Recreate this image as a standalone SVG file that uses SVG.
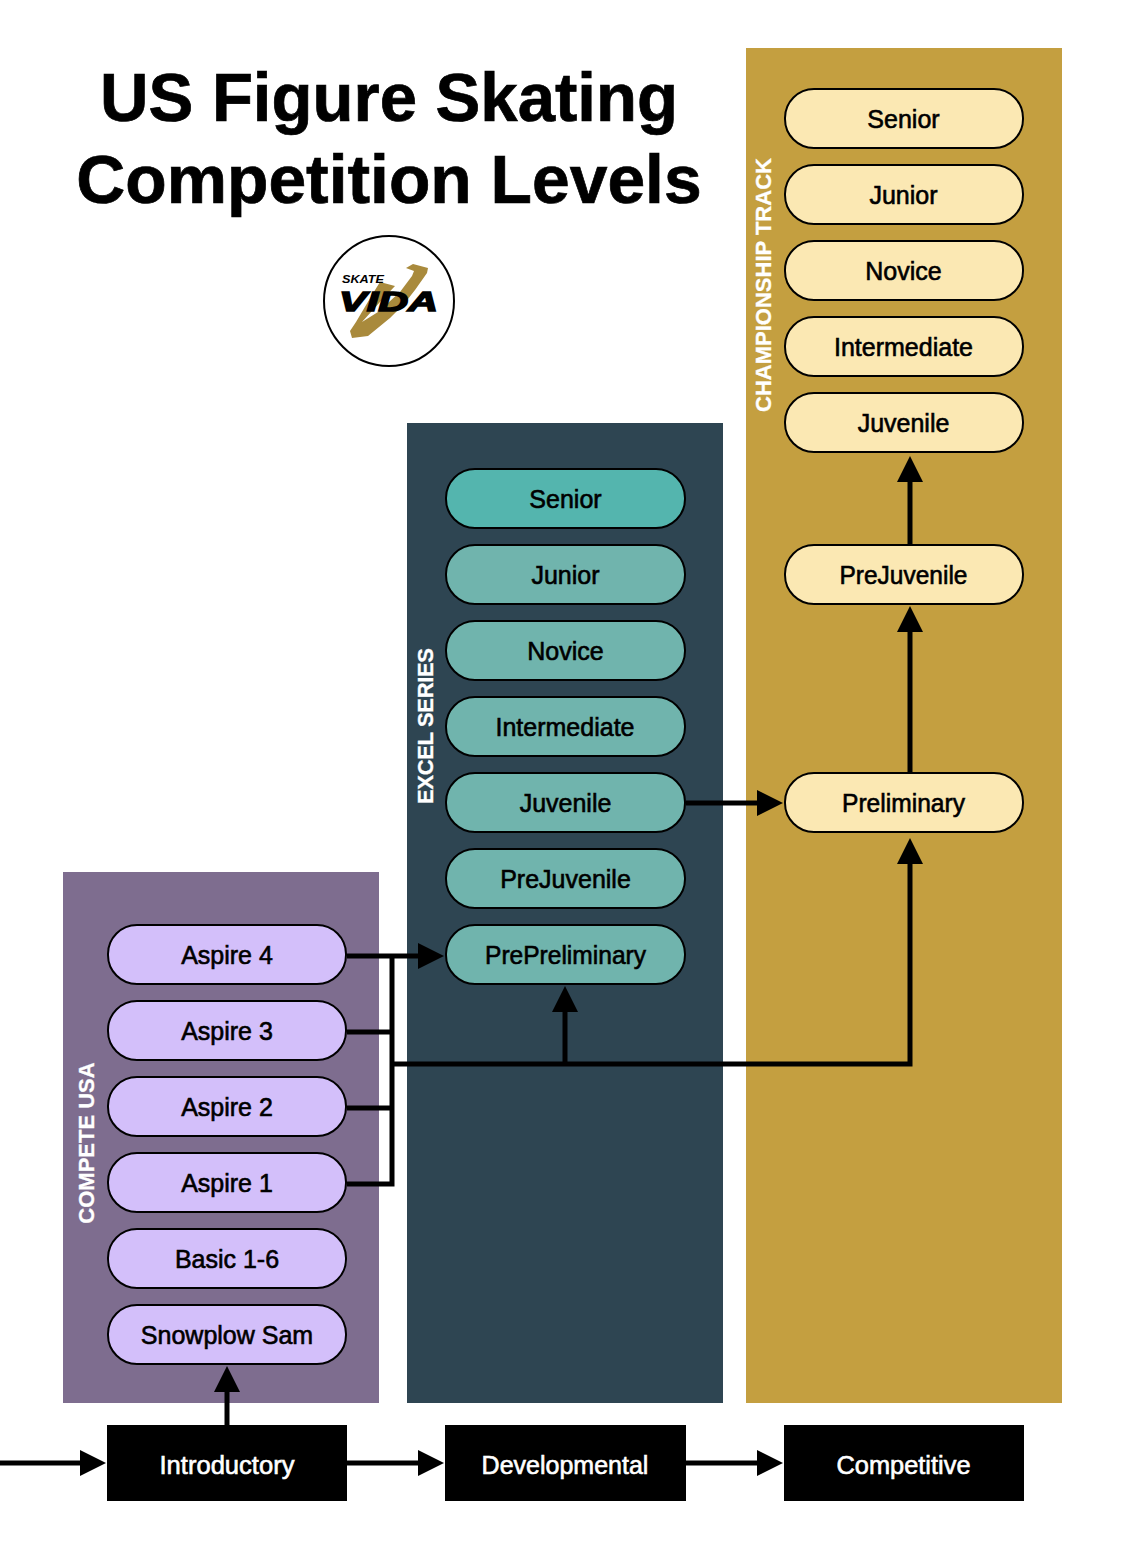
<svg xmlns="http://www.w3.org/2000/svg" width="1130" height="1552" viewBox="0 0 1130 1552">
<defs>
<style>
text{font-family:"Liberation Sans",Arial,sans-serif}
.t{font-size:67.8px;font-weight:700;text-anchor:middle;fill:#000;stroke:#000;stroke-width:.7px}
.l{font-size:25px;text-anchor:middle;fill:#000;stroke:#000;stroke-width:.6px;transform:translateY(.6px)}
.w{font-size:25px;text-anchor:middle;fill:#fff;stroke:#fff;stroke-width:.6px;transform:translateY(1px)}
.v{font-size:22px;font-weight:700;text-anchor:middle;fill:#fff;stroke:#fff;stroke-width:.3px}
.p{stroke:#000;stroke-width:2px}
.pu{fill:#d3bffa}.te{fill:#70b4ad}.ye{fill:#fbe8b3}
.c{fill:none;stroke:#000;stroke-width:5px}
</style>
<marker id="a" markerUnits="userSpaceOnUse" markerWidth="27" markerHeight="28" refX="18" refY="13" orient="auto"><path d="M0 0L26 13L0 26Z" fill="#000"/></marker>
</defs>
<rect width="1130" height="1552" fill="#fff"/>
<g id="panels">
<rect x="63" y="872" width="316" height="531" fill="#7e6d8f"/>
<rect x="407" y="423" width="316" height="980" fill="#2e4552"/>
<rect x="746" y="48" width="316" height="1355" fill="#c49f40"/>
<text class="v" transform="translate(94 1143) rotate(-90)">COMPETE USA</text>
<text class="v" transform="translate(433 726) rotate(-90)" textLength="156">EXCEL SERIES</text>
<text class="v" transform="translate(771 285) rotate(-90)">CHAMPIONSHIP TRACK</text>
</g>
<g id="title">
<text class="t" x="389" y="121" textLength="578" lengthAdjust="spacingAndGlyphs">US Figure Skating</text>
<text class="t" x="389" y="203">Competition Levels</text>
</g>
<g id="logo">
<circle cx="389" cy="301" r="65" fill="#fff" stroke="#000" stroke-width="2"/>
<path d="M406 268L413 264L428 268L427 273L415 290L404 304L390 318L368 336L352 338L350 331L356 322L372 295L380 282L395 286L380 302L362 322L378 312L400 292L412 276L414 271Z" fill="#a98a3c"/>
<text x="342" y="283" font-size="10" font-weight="700" font-style="italic" fill="#000" textLength="42" lengthAdjust="spacingAndGlyphs">SKATE</text>
<text x="339" y="310.500" font-size="28" font-weight="700" font-style="italic" fill="#000" stroke="#000" stroke-width="1.500" textLength="99" lengthAdjust="spacingAndGlyphs">VIDA</text>
</g>
<g id="connectors">
<path class="c" d="M347 956H436" marker-end="url(#a)"/>
<path class="c" d="M347 1032H392"/>
<path class="c" d="M347 1108H392"/>
<path class="c" d="M347 1184H392V956"/>
<path class="c" d="M392 1064H910V846" marker-end="url(#a)"/>
<path class="c" d="M565 1064V994" marker-end="url(#a)"/>
<path class="c" d="M686 803H775" marker-end="url(#a)"/>
<path class="c" d="M910 773V614" marker-end="url(#a)"/>
<path class="c" d="M910 544V464" marker-end="url(#a)"/>
<path class="c" d="M227 1426V1374" marker-end="url(#a)"/>
<path class="c" d="M0 1463H98" marker-end="url(#a)"/>
<path class="c" d="M347 1463H436" marker-end="url(#a)"/>
<path class="c" d="M686 1463H775" marker-end="url(#a)"/>
</g>
<g id="n-aspire4"><rect class="p pu" x="108" y="925" width="238" height="59" rx="29"/><text class="l" x="227" y="963">Aspire 4</text></g>
<g id="n-aspire3"><rect class="p pu" x="108" y="1001" width="238" height="59" rx="29"/><text class="l" x="227" y="1039">Aspire 3</text></g>
<g id="n-aspire2"><rect class="p pu" x="108" y="1077" width="238" height="59" rx="29"/><text class="l" x="227" y="1115">Aspire 2</text></g>
<g id="n-aspire1"><rect class="p pu" x="108" y="1153" width="238" height="59" rx="29"/><text class="l" x="227" y="1191">Aspire 1</text></g>
<g id="n-basic"><rect class="p pu" x="108" y="1229" width="238" height="59" rx="29"/><text class="l" x="227" y="1267">Basic 1-6</text></g>
<g id="n-snowplow"><rect class="p pu" x="108" y="1305" width="238" height="59" rx="29"/><text class="l" x="227" y="1343">Snowplow Sam</text></g>
<g id="e-senior"><rect class="p" fill="#54b5ae" x="446" y="469" width="239" height="59" rx="29"/><text class="l" x="565.5" y="507">Senior</text></g>
<g id="e-junior"><rect class="p te" x="446" y="545" width="239" height="59" rx="29"/><text class="l" x="565.5" y="583">Junior</text></g>
<g id="e-novice"><rect class="p te" x="446" y="621" width="239" height="59" rx="29"/><text class="l" x="565.5" y="659">Novice</text></g>
<g id="e-intermediate"><rect class="p te" x="446" y="697" width="239" height="59" rx="29"/><text class="l" x="565" y="735">Intermediate</text></g>
<g id="e-juvenile"><rect class="p te" x="446" y="773" width="239" height="59" rx="29"/><text class="l" x="565.5" y="811">Juvenile</text></g>
<g id="e-prejuvenile"><rect class="p te" x="446" y="849" width="239" height="59" rx="29"/><text class="l" x="565.5" y="887">PreJuvenile</text></g>
<g id="e-prepreliminary"><rect class="p te" x="446" y="925" width="239" height="59" rx="29"/><text class="l" x="565.5" y="963" textLength="161" lengthAdjust="spacingAndGlyphs">PrePreliminary</text></g>
<g id="c-senior"><rect class="p ye" x="785" y="89" width="238" height="59" rx="29"/><text class="l" x="903.5" y="127">Senior</text></g>
<g id="c-junior"><rect class="p ye" x="785" y="165" width="238" height="59" rx="29"/><text class="l" x="903.5" y="203">Junior</text></g>
<g id="c-novice"><rect class="p ye" x="785" y="241" width="238" height="59" rx="29"/><text class="l" x="903.5" y="279">Novice</text></g>
<g id="c-intermediate"><rect class="p ye" x="785" y="317" width="238" height="59" rx="29"/><text class="l" x="903.5" y="355">Intermediate</text></g>
<g id="c-juvenile"><rect class="p ye" x="785" y="393" width="238" height="59" rx="29"/><text class="l" x="903.5" y="431">Juvenile</text></g>
<g id="c-prejuvenile"><rect class="p ye" x="785" y="545" width="238" height="59" rx="29"/><text class="l" x="903.5" y="583" textLength="128" lengthAdjust="spacingAndGlyphs">PreJuvenile</text></g>
<g id="c-preliminary"><rect class="p ye" x="785" y="773" width="238" height="59" rx="29"/><text class="l" x="903.5" y="811" textLength="123" lengthAdjust="spacingAndGlyphs">Preliminary</text></g>
<g id="s-introductory"><rect x="107" y="1425" width="240" height="76"/><text class="w" x="227" y="1473" textLength="135" lengthAdjust="spacingAndGlyphs">Introductory</text></g>
<g id="s-developmental"><rect x="445" y="1425" width="241" height="76"/><text class="w" x="565" y="1473">Developmental</text></g>
<g id="s-competitive"><rect x="784" y="1425" width="240" height="76"/><text class="w" x="903.5" y="1473" textLength="134" lengthAdjust="spacingAndGlyphs">Competitive</text></g>
</svg>
